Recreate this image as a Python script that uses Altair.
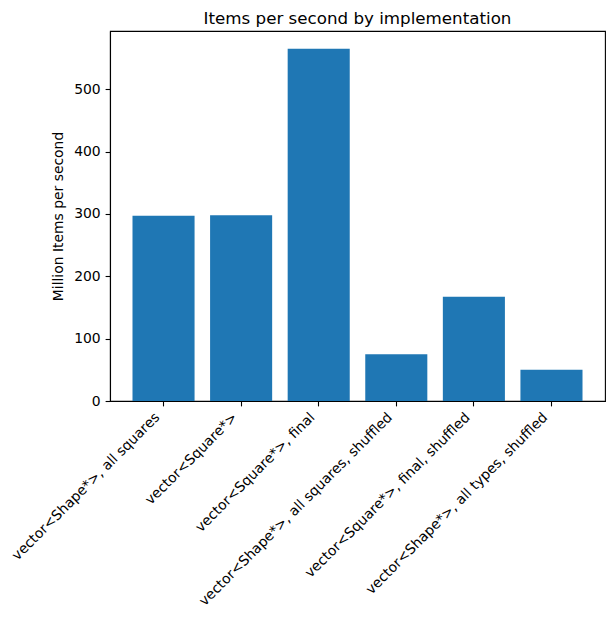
import altair as alt
import pandas as pd

categories = [
    "vector<Shape*>, all squares",
    "vector<Square*>",
    "vector<Square*>, final",
    "vector<Shape*>, all squares, shuffled",
    "vector<Square*>, final, shuffled",
    "vector<Shape*>, all types, shuffled",
]
values = [297, 298, 565, 75, 167, 50]
y_ticks = [0, 100, 200, 300, 400, 500]

df = pd.DataFrame({"impl": categories, "mips": values})

FONT = "DejaVu Sans"

chart = alt.Chart(df).mark_bar(color="#1f77b4").encode(
    x=alt.X(
        "impl:N",
        sort=categories,
        title=None,
        scale=alt.Scale(paddingInner=0.2, paddingOuter=0.29),
        axis=alt.Axis(
            labelAngle=-45,
            labelAlign="right",
            labelBaseline="top",
            labelLimit=400,
            labelFont=FONT,
            labelFontSize=13.9,
            labelColor="black",
            labelPadding=4,
            labelOffset=-11,
            tickColor="black",
            tickSize=4.9,
            tickWidth=1.1,
            domainColor="black",
            domainWidth=1.1,
        ),
    ),
    y=alt.Y(
        "mips:Q",
        title="Million Items per second",
        scale=alt.Scale(domain=[0, 593.3], nice=False, zero=True),
        axis=alt.Axis(
            values=y_ticks,
            grid=False,
            labelFont=FONT,
            labelFontSize=13.9,
            labelColor="black",
            labelPadding=4.9,
            tickColor="black",
            tickSize=4.9,
            tickWidth=1.1,
            domainColor="black",
            domainWidth=1.1,
            titleFont=FONT,
            titleFontSize=13.9,
            titleFontWeight="normal",
            titleColor="black",
            titlePadding=8,
        ),
    ),
).properties(
    width=495,
    height=370,
    title=alt.TitleParams(
        "Items per second by implementation",
        font=FONT,
        fontSize=16.7,
        fontWeight="normal",
        color="black",
        offset=3,
    ),
    padding={"left": 102, "top": 23, "right": 2, "bottom": 210},
    autosize="none",
).configure_view(stroke="black", strokeWidth=1.1)

chart.save("out.html", embed_options={"renderer": "svg", "actions": False})
